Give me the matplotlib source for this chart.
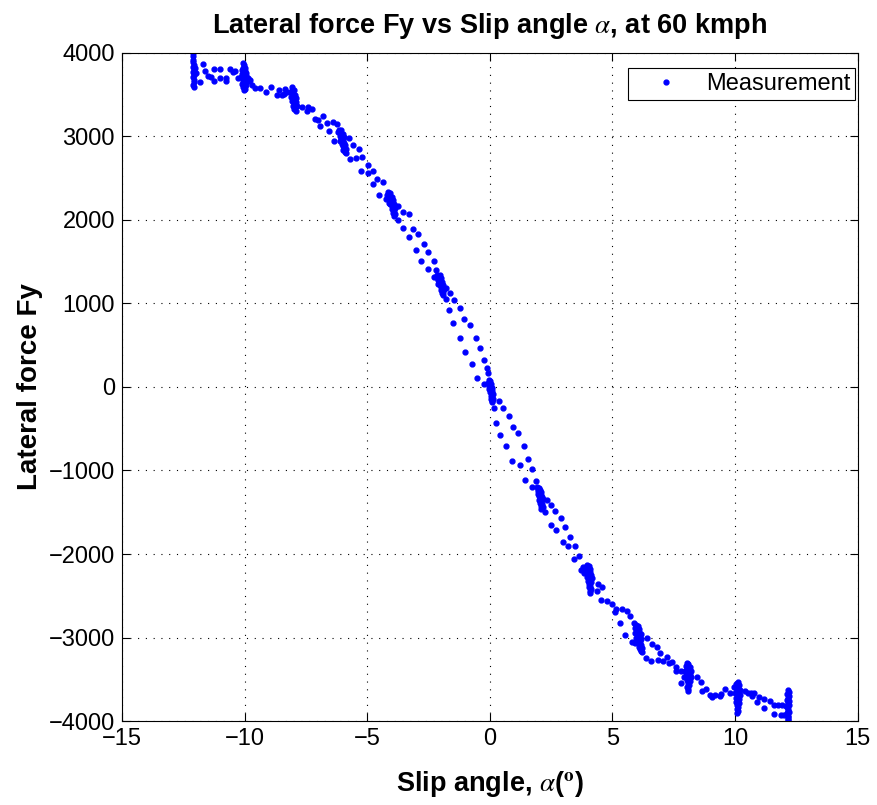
import numpy as np
import matplotlib.pyplot as plt

plt.rcParams['font.family'] = ['Liberation Sans', 'DejaVu Sans']
plt.rcParams['mathtext.fontset'] = 'stix'

# Puntos de transicion entre angulos (ambas ramas del barrido)
sweep_alpha = [
    -11.97, -11.70, -11.63, -11.81, -11.47, -11.37, -11.24, -11.02, -11.24, -11.02, -10.75, -10.75, -10.58, -10.45, -10.38, -10.28,
    -9.79, -9.70, -9.57, -9.36, -9.12, -8.93, -8.68, -8.58, -8.35, -8.39, -8.25, -8.48,
    -7.67, -7.42, -7.46, -7.24, -7.14, -7.02, -6.80, -6.91, -6.63, -6.40, -6.23, -6.57, -6.37,
    -5.75, -5.57, -5.34, -5.68, -5.45, -5.20, -4.97, -5.25, -4.75, -4.97, -4.58, -4.36, -4.75, -4.53, -4.22,
    -3.75, -3.53, -3.30, -3.73, -3.53, -3.14, -2.91, -3.30, -2.69, -3.02, -2.51, -2.80, -2.29, -2.51, -2.18, -2.29,
    -1.79, -1.63, -1.79, -1.45, -1.68, -1.23, -1.07, -1.52, -0.80, -1.23, -0.57, -0.40, -1.02, -0.24, -0.73, -0.13, -0.06, -0.51, -0.24,
    0.39, 0.55, 0.17, 0.77, 0.27, 0.93, 1.16, 0.43, 1.38, 0.66, 1.54, 0.92, 1.22, 1.71, 1.43, 1.88, 1.71,
    2.33, 2.49, 2.27, 2.66, 2.89, 2.48, 3.05, 2.71, 3.27, 2.98, 3.20, 3.49, 3.65, 3.43, 3.82, 3.71,
    4.40, 4.59, 4.39, 4.55, 4.77, 4.98, 5.16, 5.09, 5.38, 5.61, 5.72, 5.31, 5.88, 5.92, 5.51, 5.78, 5.94,
    6.40, 6.63, 6.83, 6.95, 7.24, 6.36, 6.56, 6.85, 7.08, 7.31, 7.42, 7.58, 7.80, 7.58, 7.78,
    8.46, 8.60, 8.64, 8.83, 8.96, 9.05, 9.18, 9.39, 9.42, 9.60, 9.79, 9.94,
    10.41, 10.51, 10.65, 10.78, 10.67, 10.98, 10.89, 11.18, 11.43, 11.16, 11.60, 11.77, 11.90, 11.60, 11.87, 12.00,
]
sweep_fy = [
    3757, 3865, 3784, 3649, 3728, 3709, 3808, 3808, 3665, 3697, 3697, 3665, 3808, 3768, 3784, 3697,
    3677, 3617, 3585, 3585, 3529, 3597, 3497, 3557, 3569, 3505, 3529, 3497,
    3357, 3357, 3305, 3325, 3209, 3197, 3245, 3129, 3158, 3177, 3146, 3066, 2950,
    2986, 2898, 2850, 2727, 2739, 2758, 2659, 2590, 2590, 2559, 2491, 2459, 2427, 2296, 2248,
    2168, 2100, 2072, 2000, 1908, 1889, 1829, 1793, 1713, 1645, 1613, 1513, 1513, 1417, 1401, 1317,
    1189, 1122, 1057, 1042, 926, 946, 814, 763, 746, 587, 583, 471, 423, 323, 279, 228, 164, 111, 32,
    -164, -248, -252, -344, -428, -475, -555, -571, -703, -703, -866, -883, -934, -982, -1110, -1126, -1194,
    -1350, -1410, -1500, -1485, -1565, -1649, -1681, -1717, -1797, -1860, -1908, -1908, -2020, -2060, -2156, -2188,
    -2356, -2399, -2447, -2547, -2563, -2595, -2663, -2695, -2663, -2679, -2743, -2827, -2827, -2891, -2971, -3051, -3071,
    -3000, -3080, -3118, -3182, -3230, -3250, -3282, -3266, -3282, -3310, -3290, -3350, -3398, -3398, -3541,
    -3470, -3530, -3641, -3621, -3689, -3717, -3689, -3701, -3677, -3621, -3661, -3597,
    -3641, -3661, -3661, -3661, -3701, -3709, -3769, -3741, -3757, -3849, -3809, -3809, -3809, -3917, -3929, -3929,
]

# Puntos en cada angulo mantenido (-12 ... 12 grados)
hold_alpha = [
    -12.10, -12.10, -12.09, -12.11, -12.08, -12.10, -12.07, -12.09, -12.06, -12.10, -12.08, -12.07, -12.09, -12.08, -12.05, -12.04,
    -10.05, -10.03, -10.08, -9.98, -10.10, -10.00, -9.92, -10.12, -10.05, -9.95, -10.15, -10.02, -9.90, -10.08, -9.97, -10.10, -10.03, -9.93, -10.06, -10.00, -10.04, -9.85, -9.80,
    -8.05, -8.08, -8.00, -8.10, -8.02, -7.95, -8.06, -8.00, -7.92, -8.04, -7.97, -8.08, -7.90, -8.00, -7.95, -8.02, -7.93, -7.98, -7.90, -7.85, -8.12,
    -6.15, -6.05, -6.20, -6.10, -6.00, -6.12, -6.02, -5.93, -6.08, -5.98, -6.05, -5.95, -6.03, -5.90, -6.00, -5.95, -5.88, -5.97, -5.90, -5.85, -6.10,
    -4.15, -4.05, -4.18, -4.08, -3.98, -4.12, -4.02, -3.95, -4.08, -3.98, -4.05, -3.92, -4.00, -3.95, -3.88, -3.97, -3.90, -3.93, -3.88, -3.90, -4.10,
    -2.15, -2.05, -2.18, -2.08, -1.98, -2.12, -2.02, -1.95, -2.08, -1.98, -2.05, -1.92, -2.00, -1.95, -1.88, -1.97, -1.92, -1.95, -1.90, -2.10,
    -0.05, 0.02, -0.08, 0.00, 0.06, -0.04, 0.03, 0.08, -0.02, 0.05, 0.10, 0.00, 0.07, 0.12, 0.03, 0.09, 0.05, 0.11, 0.07, 0.10,
    1.92, 2.00, 1.95, 2.05, 1.98, 2.10, 2.02, 1.95, 2.08, 2.00, 2.12, 2.05, 2.15, 2.02, 2.10, 2.05, 2.12, 2.08, 2.15, 2.10,
    3.98, 4.05, 3.95, 4.08, 4.00, 3.90, 4.10, 4.02, 3.85, 3.95, 4.12, 4.05, 3.98, 4.15, 4.08, 4.02, 4.12, 4.06, 4.10, 4.05, 4.12, 4.08, 4.10,
    5.98, 6.05, 5.95, 6.10, 6.00, 6.08, 5.92, 6.15, 6.03, 6.12, 5.98, 6.08, 6.18, 6.02, 6.12, 6.07, 6.15, 6.10, 6.20, 6.12, 6.18, 6.22,
    8.02, 8.10, 8.00, 8.15, 8.05, 8.12, 7.95, 8.20, 8.08, 8.00, 8.15, 8.05, 7.90, 8.22, 8.10, 8.02, 8.15, 8.08, 8.12, 8.05, 8.10, 8.08,
    10.12, 10.05, 10.18, 10.10, 10.02, 10.20, 10.08, 10.15, 10.00, 10.22, 10.10, 10.05, 10.18, 10.10, 10.02, 10.15, 10.08, 10.12, 10.06, 10.10, 10.08,
    12.15, 12.18, 12.12, 12.20, 12.15, 12.10, 12.18, 12.14, 12.20, 12.12, 12.17, 12.14, 12.19, 12.12, 12.16, 12.14, 12.17, 12.15, 12.10, 12.08,
]
hold_fy = [
    4000, 3960, 3920, 3890, 3860, 3830, 3800, 3770, 3740, 3710, 3680, 3650, 3620, 3590, 3760, 3820,
    3880, 3850, 3820, 3820, 3790, 3780, 3760, 3750, 3730, 3720, 3710, 3690, 3680, 3660, 3650, 3630, 3610, 3620, 3590, 3570, 3550, 3700, 3660,
    3590, 3560, 3550, 3530, 3510, 3500, 3490, 3470, 3460, 3440, 3430, 3420, 3410, 3400, 3380, 3370, 3350, 3330, 3310, 3360, 3470,
    3080, 3075, 3050, 3040, 3030, 3010, 3000, 2990, 2975, 2960, 2940, 2925, 2905, 2895, 2880, 2860, 2850, 2835, 2815, 2805, 2950,
    2330, 2320, 2300, 2290, 2280, 2265, 2250, 2240, 2225, 2210, 2195, 2185, 2170, 2150, 2140, 2125, 2105, 2085, 2065, 2045, 2200,
    1340, 1335, 1315, 1305, 1300, 1285, 1270, 1260, 1250, 1235, 1220, 1215, 1200, 1180, 1170, 1155, 1135, 1120, 1105, 1230,
    80, 70, 50, 40, 30, 15, 0, -10, -25, -40, -50, -65, -80, -90, -105, -120, -140, -150, -170, -185,
    -1195, -1205, -1225, -1230, -1250, -1255, -1270, -1280, -1290, -1305, -1315, -1330, -1340, -1350, -1365, -1385, -1400, -1420, -1440, -1460,
    -2135, -2145, -2165, -2175, -2190, -2200, -2210, -2225, -2230, -2245, -2250, -2265, -2280, -2290, -2300, -2320, -2335, -2355, -2380, -2400, -2420, -2445, -2465,
    -2850, -2860, -2880, -2895, -2910, -2930, -2945, -2955, -2970, -2990, -3000, -3015, -3020, -3035, -3050, -3070, -3090, -3110, -3120, -3140, -3160, -3175,
    -3310, -3320, -3340, -3350, -3365, -3380, -3395, -3400, -3415, -3430, -3440, -3455, -3470, -3475, -3490, -3510, -3525, -3545, -3570, -3590, -3615, -3640,
    -3535, -3560, -3570, -3595, -3610, -3625, -3640, -3660, -3670, -3685, -3700, -3720, -3735, -3755, -3770, -3790, -3810, -3835, -3855, -3880, -3900,
    -3630, -3655, -3680, -3700, -3725, -3745, -3765, -3790, -3810, -3830, -3850, -3875, -3895, -3915, -3935, -3955, -3975, -3990, -3900, -3820,
]

alpha = np.array(hold_alpha[:16] + sweep_alpha + hold_alpha[16:])
fy = np.array(hold_fy[:16] + sweep_fy + hold_fy[16:])

fig = plt.figure(figsize=(8.77, 8.05), dpi=100)
ax = fig.add_axes([0.139, 0.1043, 0.839, 0.830])

ax.plot(alpha, fy, linestyle='none', marker='.', markersize=7, color=(0, 0, 1), label='Measurement')

ax.set_xlim(-15, 15)
ax.set_ylim(-4000, 4000)
ax.set_xticks(np.arange(-15, 16, 5))
ax.set_yticks(np.arange(-4000, 4001, 1000))
ax.grid(True, color='black', linestyle=(0, (1, 6)), linewidth=0.8)
ax.tick_params(direction='in', length=6, width=0.8, top=True, right=True, labelsize=17, pad=5)
for s in ax.spines.values():
    s.set_linewidth(0.8)

ax.set_title(r'Lateral force Fy vs Slip angle $\alpha$, at 60 kmph', fontsize=19.5, fontweight='bold', pad=14)
ax.set_xlabel(r'Slip angle, $\alpha$($^{\mathbf{o}}$)', fontsize=19.5, fontweight='bold', labelpad=14)
ax.set_ylabel('Lateral force Fy', fontsize=20, fontweight='bold', labelpad=4)

leg = ax.legend(loc='upper right', bbox_to_anchor=(0.996, 0.977), borderaxespad=0,
                fancybox=False, edgecolor='black', fontsize=17, handlelength=2.8,
                borderpad=0.2, handletextpad=0.3, framealpha=1)
leg.get_frame().set_linewidth(0.8)

plt.savefig('out.png', dpi=100)
